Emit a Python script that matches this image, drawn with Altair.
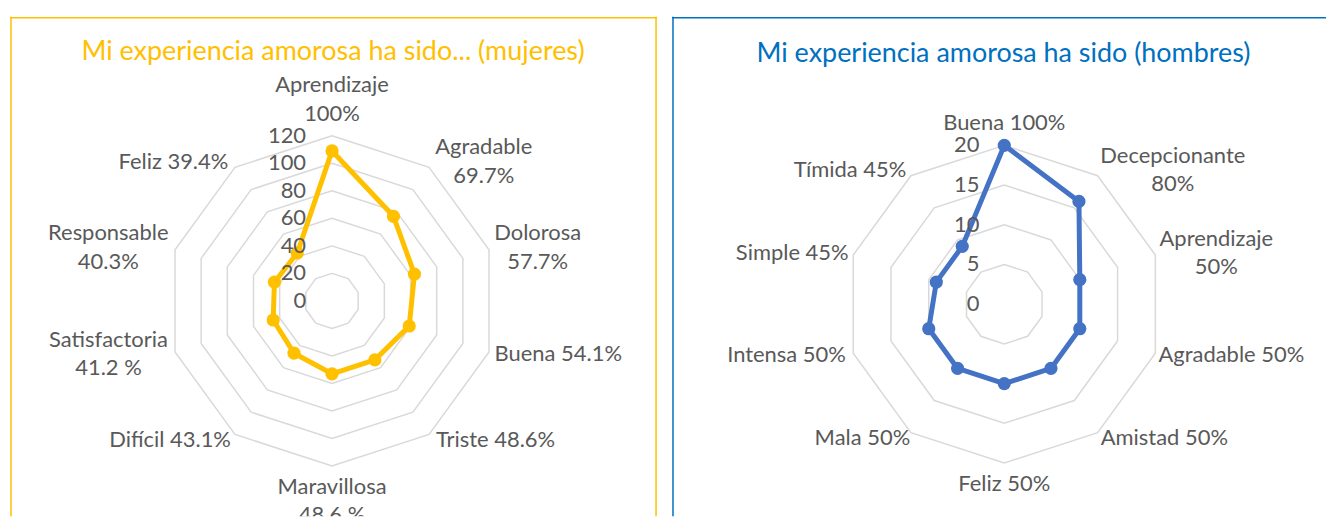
import altair as alt
import pandas as pd

# ---------------- data ----------------
cats_m = ["Aprendizaje", "Agradable", "Dolorosa", "Buena", "Triste", "Maravillosa",
          "Difícil", "Satisfactoria", "Responsable", "Feliz"]
vals_m = [109, 76, 63, 59, 53, 53, 47, 45, 44, 43]
labels_m = ["Aprendizaje\n100%", "Agradable\n69.7%", "Dolorosa\n57.7%", "Buena 54.1%",
            "Triste 48.6%", "Maravillosa\n48.6 %", "Difícil 43.1%", "Satisfactoria\n41.2 %",
            "Responsable\n40.3%", "Feliz 39.4%"]
ticks_m = [0, 20, 40, 60, 80, 100, 120]
title_m = "Mi experiencia amorosa ha sido... (mujeres)"

cats_h = ["Buena", "Decepcionante", "Aprendizaje", "Agradable", "Amistad", "Feliz",
          "Mala", "Intensa", "Simple", "Tímida"]
vals_h = [20, 16, 10, 10, 10, 10, 10, 10, 9, 9]
labels_h = ["Buena 100%", "Decepcionante\n80%", "Aprendizaje\n50%", "Agradable 50%",
            "Amistad 50%", "Feliz 50%", "Mala 50%", "Intensa 50%", "Simple 45%", "Tímida 45%"]
ticks_h = [0, 5, 10, 15, 20]
title_h = "Mi experiencia amorosa ha sido (hombres)"

# ---------------- style ----------------
FONT = "Lato"
LABEL_COLOR = "#595959"
GRID_COLOR = "#D9D9D9"
FS = 22
LH = 28.5
TITLE_FS = 27

LATO_W = {'a': .51, 'b': .56, 'c': .46, 'd': .56, 'e': .52, 'f': .33, 'g': .50, 'h': .56,
          'i': .24, 'j': .24, 'k': .50, 'l': .24, 'm': .84, 'n': .56, 'o': .56, 'p': .56,
          'q': .56, 'r': .37, 's': .42, 't': .35, 'u': .56, 'v': .50, 'w': .76, 'x': .49,
          'y': .50, 'z': .45, 'í': .24, '%': .78, '.': .24, ' ': .19, '(': .30, ')': .30}


def text_w(s, size):
    return sum(LATO_W.get(ch, 0.58 if (ch.isdigit() or ch.isupper()) else 0.52) for ch in s) * size


def panel(cats, vals, labels, ticks, color, title, title_color, border_color,
          W, H, cx, cy, k, tick_dx, title_x, title_y, gap, right_border):
    N = len(cats)
    R = max(ticks)
    X = alt.X("x:Q", scale=alt.Scale(domain=[-cx / k, (W - cx) / k], nice=False, zero=False), axis=None)
    Y = alt.Y("y:Q", scale=alt.Scale(domain=[-(H - cy) / k, cy / k], nice=False, zero=False), axis=None)
    calc = dict(x=f"datum.value*sin(2*PI*datum.idx/{N})",
                y=f"datum.value*cos(2*PI*datum.idx/{N})")

    df = pd.DataFrame({"cat": cats, "value": vals, "idx": list(range(N))})
    df_line = pd.concat([df, df.iloc[[0]].assign(idx=N)], ignore_index=True)

    rings = pd.DataFrame([{"value": lv, "idx": v} for lv in ticks if lv > 0 for v in range(N + 1)])
    df_ticks = pd.DataFrame({"value": ticks, "lab": [str(t) for t in ticks]})

    df_lab = pd.DataFrame({"label": labels, "idx": list(range(N))})
    df_lab["nl"] = [len(l.split("\n")) for l in labels]
    df_lab["hw"] = [max(text_w(p, FS) for p in l.split("\n")) / 2 for l in labels]

    grid = alt.Chart(rings).transform_calculate(**calc).mark_line(
        color=GRID_COLOR, strokeWidth=1.5).encode(x=X, y=Y, detail="value:N", order="idx:Q")

    line = alt.Chart(df_line).transform_calculate(**calc).mark_line(
        color=color, strokeWidth=5, strokeJoin="round").encode(x=X, y=Y, order="idx:Q")
    pts = alt.Chart(df).transform_calculate(**calc).mark_circle(
        color=color, size=175, opacity=1).encode(x=X, y=Y)

    tlab = alt.Chart(df_ticks).transform_calculate(x="0", y="datum.value").mark_text(
        align="right", baseline="middle", dx=-tick_dx, fontSize=FS, color=LABEL_COLOR, font=FONT
    ).encode(x=X, y=Y, text="lab:N")

    s = f"sin(2*PI*datum.idx/{N})"
    c = f"cos(2*PI*datum.idx/{N})"
    # anchor = centre of the first text line
    lx = (f"{R}*{s} + (abs({s}) < 0.1 ? 0 : ({s} > 0 ? 1 : -1) * ({gap} + datum.hw) / {k})")
    ly = (f"{R}*{c} + (abs({s}) < 0.1 ? ({c} > 0 ? (22 + (datum.nl-1)*{LH})/{k} "
          f": -21/{k}) : (7*{c} + (datum.nl-1)*{LH}/2)/{k})")
    clab = alt.Chart(df_lab).transform_calculate(x=lx, y=ly).mark_text(
        align="center", baseline="middle", lineBreak="\n", lineHeight=LH, fontSize=FS,
        color=LABEL_COLOR, font=FONT, clip=True
    ).encode(x=X, y=Y, text="label:N")

    tdf = pd.DataFrame({"t": [title]})
    ttl = alt.Chart(tdf).mark_text(
        align="center", baseline="middle", fontSize=TITLE_FS, color=title_color, font=FONT
    ).encode(x=alt.value(title_x), y=alt.value(title_y), text="t:N")

    bl = alt.Chart(tdf).mark_rule(color=border_color, strokeWidth=1.5).encode(
        x=alt.value(1), y=alt.value(0), y2=alt.value(H))
    bt = alt.Chart(tdf).mark_rule(color=border_color, strokeWidth=1.5).encode(
        x=alt.value(0), x2=alt.value(W), y=alt.value(1))
    layers = [grid, line, pts, tlab, clab, ttl, bl, bt]
    if right_border:
        br = alt.Chart(tdf).mark_rule(color=border_color, strokeWidth=1.5).encode(
            x=alt.value(W - 1), y=alt.value(0), y2=alt.value(H))
        layers.append(br)
    return alt.layer(*layers).properties(width=W, height=H)


H = 501
p1 = panel(cats_m, vals_m, labels_m, ticks_m, "#FFC000", title_m, "#FFC000", "#FFC000",
           W=649, H=H, cx=323, cy=285, k=165.6 / 120, tick_dx=26,
           title_x=324, title_y=35, gap=7, right_border=True)
p2 = panel(cats_h, vals_h, labels_h, ticks_h, "#4472C4", title_h, "#0070C0", "#0070C0",
           W=656, H=H, cx=333.3, cy=288.3, k=159.3 / 20, tick_dx=25,
           title_x=332.5, title_y=37, gap=5, right_border=False)

chart = alt.hconcat(p1, p2, spacing=13).properties(
    padding={"left": 1, "top": 7, "right": 0, "bottom": 0}
).configure_view(stroke=None)

chart.save("out.html", embed_options={"renderer": "svg", "actions": False})
